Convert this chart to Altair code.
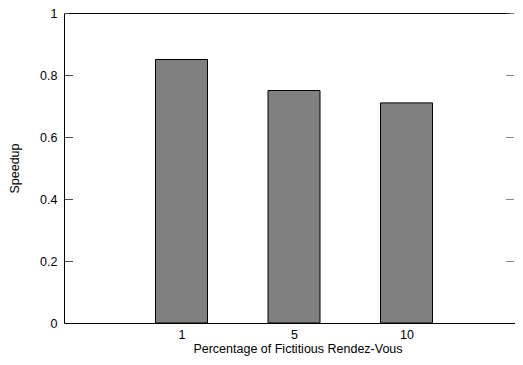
import json
import altair as alt
import pandas as pd

pct_labels = ["1", "5", "10"]
speedup = [0.85, 0.75, 0.71]
positions = [0, 1, 2]
y_ticks = [0, 0.2, 0.4, 0.6, 0.8, 1]

df = pd.DataFrame({"pos": positions, "pct": pct_labels, "speedup": speedup})
ticks_df = pd.DataFrame({"t": y_ticks})

FONT = "Liberation Sans"
FS = 12.5
X_MIN, X_MAX = -1, 2.92
Y_MIN, Y_MAX = 0, 1
x_scale = alt.Scale(domain=[X_MIN, X_MAX], nice=False, zero=False)
y_scale = alt.Scale(domain=[Y_MIN, Y_MAX], nice=False)

label_expr = json.dumps(pct_labels) + "[datum.value]"

bars = alt.Chart(df).mark_bar(size=52, fill="#808080", stroke="black", strokeWidth=1).encode(
    x=alt.X("pos:Q", scale=x_scale,
            axis=alt.Axis(values=positions, labelExpr=label_expr, tickSize=0, grid=False,
                          title="Percentage of Fictitious Rendez-Vous", labelPadding=5,
                          titlePadding=2, titleX=233.5, labelFontSize=FS, titleFontSize=FS,
                          titleFontWeight="normal", domainColor="black", labelColor="black",
                          titleColor="black", labelFont=FONT, titleFont=FONT)),
    y=alt.Y("speedup:Q", scale=y_scale,
            axis=alt.Axis(values=y_ticks, format="~g", tickSize=0, grid=False,
                          title="Speedup", labelPadding=7, titlePadding=18,
                          labelFontSize=FS, titleFontSize=FS, titleFontWeight="normal",
                          domainColor="black", labelColor="black", titleColor="black",
                          labelFont=FONT, titleFont=FONT)),
)

# top border of the frame
top_border = alt.Chart(ticks_df).mark_rule(color="black", strokeWidth=1, yOffset=0.5).encode(
    x=alt.datum(X_MIN), x2=alt.datum(X_MAX), y=alt.datum(Y_MAX)
)

left_ticks = alt.Chart(ticks_df).mark_tick(orient="horizontal", size=8, thickness=1,
                                           color="black", clip=True, yOffset=0.5).encode(
    x=alt.datum(X_MIN), y=alt.Y("t:Q", scale=y_scale)
)
right_ticks = alt.Chart(ticks_df).mark_tick(orient="horizontal", size=8, thickness=1,
                                            color="#555555", clip=True, yOffset=0.5).encode(
    x=alt.datum(X_MAX), y=alt.Y("t:Q", scale=y_scale)
)

chart = alt.layer(bars, top_border, left_ticks, right_ticks).properties(
    width=451, height=310,
    autosize=alt.AutoSizeParams(type="none"),
    padding={"left": 56, "top": 5, "right": 0, "bottom": 34},
).configure_view(strokeWidth=0).configure(background="white")

chart.save("out.html", embed_options={"renderer": "svg", "actions": False})
